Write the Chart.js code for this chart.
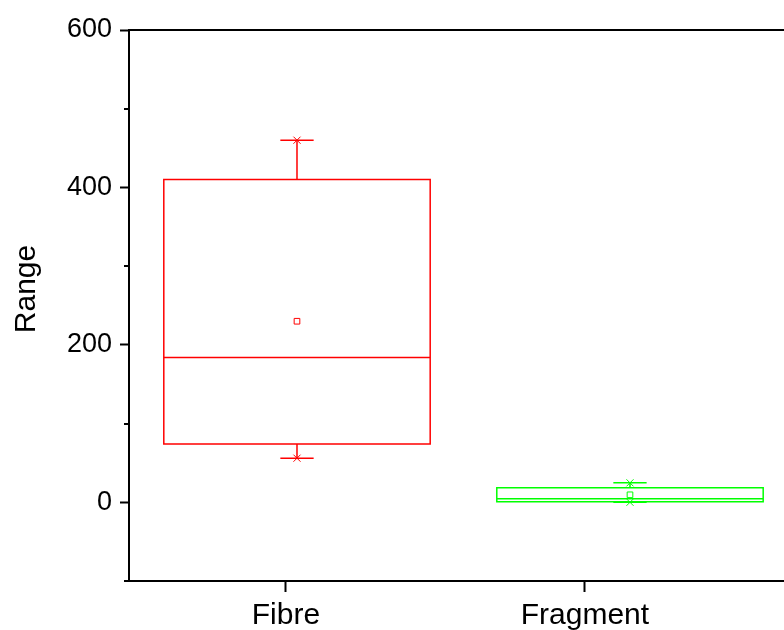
<!DOCTYPE html>
<html>
<head>
<meta charset="utf-8">
<script src="https://cdn.jsdelivr.net/npm/chart.js@4/dist/chart.umd.min.js"></script>
<style>
  html, body { margin: 0; padding: 0; background: #fff; overflow: hidden; }
  canvas { display: block; }
</style>
</head>
<body>
<canvas id="grafico" width="784" height="630"></canvas>
<script>
const CATEGORIES = ['Fibre', 'Fragment'];
const MINS    = [56, 0];
const Q1      = [74, 0.6];
const MEDIANS = [184, 4.4];
const Q3      = [410, 18.4];
const MAXS    = [460, 24.7];
const MEANS   = [230, 9.5];
const COLORS  = ['#ff0000', '#00ff00'];
const Y_TICKS = [0, 200, 400, 600];
const Y_MINOR = [-100, 100, 300, 500];

const BOX_WIDTH = 0.8;
const CAP_WIDTH = 0.1;
const FONT = 'Liberation Sans, Arial, sans-serif';

const points = values => values.map((v, i) => ({ x: i + 1, y: v }));

const boxPlugin = {
    id: 'boxes',
    beforeDatasetsDraw(chart) {
        const ctx = chart.ctx;
        const xs = chart.scales.xb;
        const ys = chart.scales.y;

        ctx.save();
        ctx.lineWidth = 1.5;
        CATEGORIES.forEach((cat, i) => {
            const cx = xs.getPixelForValue(i + 1);
            const x0 = xs.getPixelForValue(i + 1 - BOX_WIDTH / 2);
            const x1 = xs.getPixelForValue(i + 1 + BOX_WIDTH / 2);
            const c0 = xs.getPixelForValue(i + 1 - CAP_WIDTH / 2);
            const c1 = xs.getPixelForValue(i + 1 + CAP_WIDTH / 2);
            const yq1 = ys.getPixelForValue(Q1[i]);
            const yq3 = ys.getPixelForValue(Q3[i]);
            const ymed = ys.getPixelForValue(MEDIANS[i]);
            const ymin = ys.getPixelForValue(MINS[i]);
            const ymax = ys.getPixelForValue(MAXS[i]);

            ctx.strokeStyle = COLORS[i];
            ctx.beginPath();
            ctx.rect(x0, yq3, x1 - x0, yq1 - yq3);
            ctx.moveTo(x0, ymed); ctx.lineTo(x1, ymed);
            ctx.moveTo(cx, yq3); ctx.lineTo(cx, ymax);
            ctx.moveTo(c0, ymax); ctx.lineTo(c1, ymax);
            ctx.moveTo(cx, yq1); ctx.lineTo(cx, ymin);
            ctx.moveTo(c0, ymin); ctx.lineTo(c1, ymin);
            ctx.stroke();
        });

        // minor ticks on the y axis
        const left = chart.chartArea.left;
        ctx.strokeStyle = '#000';
        ctx.lineWidth = 2;
        ctx.beginPath();
        Y_MINOR.forEach(v => {
            const py = Math.round(ys.getPixelForValue(v));
            ctx.moveTo(left - 5, py);
            ctx.lineTo(left, py);
        });
        ctx.stroke();

        // y axis title
        ctx.fillStyle = '#000';
        ctx.font = '30px ' + FONT;
        ctx.textAlign = 'center';
        ctx.textBaseline = 'alphabetic';
        ctx.translate(35, 289);
        ctx.rotate(-Math.PI / 2);
        ctx.fillText('Range', 0, 0);
        ctx.restore();
    }
};

function noSidePadding(s, height) {
    s.height = height;
    s.paddingLeft = 0;
    s.paddingRight = 0;
}

function renderChart() {
    const ctx = document.getElementById('grafico');

    new Chart(ctx, {
        type: 'scatter',
        data: {
            datasets: [
                {
                    label: 'Mean',
                    data: points(MEANS),
                    xAxisID: 'xb',
                    pointStyle: 'rect',
                    pointRadius: 4,
                    pointBorderWidth: 1,
                    pointBorderColor: COLORS,
                    pointBackgroundColor: 'rgba(0,0,0,0)'
                },
                {
                    label: 'Max',
                    data: points(MAXS),
                    xAxisID: 'xb',
                    pointStyle: 'crossRot',
                    pointRadius: 5,
                    pointBorderWidth: 1,
                    pointBorderColor: COLORS
                },
                {
                    label: 'Min',
                    data: points(MINS),
                    xAxisID: 'xb',
                    pointStyle: 'crossRot',
                    pointRadius: 5,
                    pointBorderWidth: 1,
                    pointBorderColor: COLORS
                }
            ]
        },
        options: {
            responsive: false,
            animation: false,
            layout: { padding: 0, autoPadding: false },
            plugins: {
                legend: { display: false },
                tooltip: { enabled: false }
            },
            scales: {
                x: {
                    type: 'linear',
                    position: 'bottom',
                    min: 0.475,
                    max: 2.666,
                    afterBuildTicks: s => { s.ticks = CATEGORIES.map((c, i) => ({ value: i + 1 })); },
                    afterFit: s => noSidePadding(s, 49),
                    ticks: {
                        callback: v => CATEGORIES[v - 1],
                        color: '#000',
                        padding: 6,
                        maxRotation: 0,
                        font: { family: FONT, size: 30 }
                    },
                    grid: { drawOnChartArea: false, tickLength: 11, tickWidth: 2, tickColor: '#000' },
                    border: { color: '#000', width: 2 }
                },
                xb: {
                    type: 'linear',
                    position: 'top',
                    min: 0.4955,
                    max: 2.4625,
                    afterFit: s => noSidePadding(s, 30),
                    ticks: { display: false },
                    grid: { display: false },
                    border: { color: '#000', width: 2 }
                },
                y: {
                    min: -100,
                    max: 600,
                    afterBuildTicks: s => { s.ticks = Y_TICKS.map(v => ({ value: v })); },
                    afterFit: s => { s.width = 129; s.paddingTop = 0; s.paddingBottom = 0; },
                    ticks: {
                        color: '#000',
                        padding: 8,
                        font: { family: FONT, size: 27 }
                    },
                    grid: { drawOnChartArea: false, tickLength: 9, tickWidth: 2, tickColor: '#000' },
                    border: { color: '#000', width: 2 }
                }
            }
        },
        plugins: [boxPlugin]
    });
}

renderChart();
</script>
</body>
</html>
